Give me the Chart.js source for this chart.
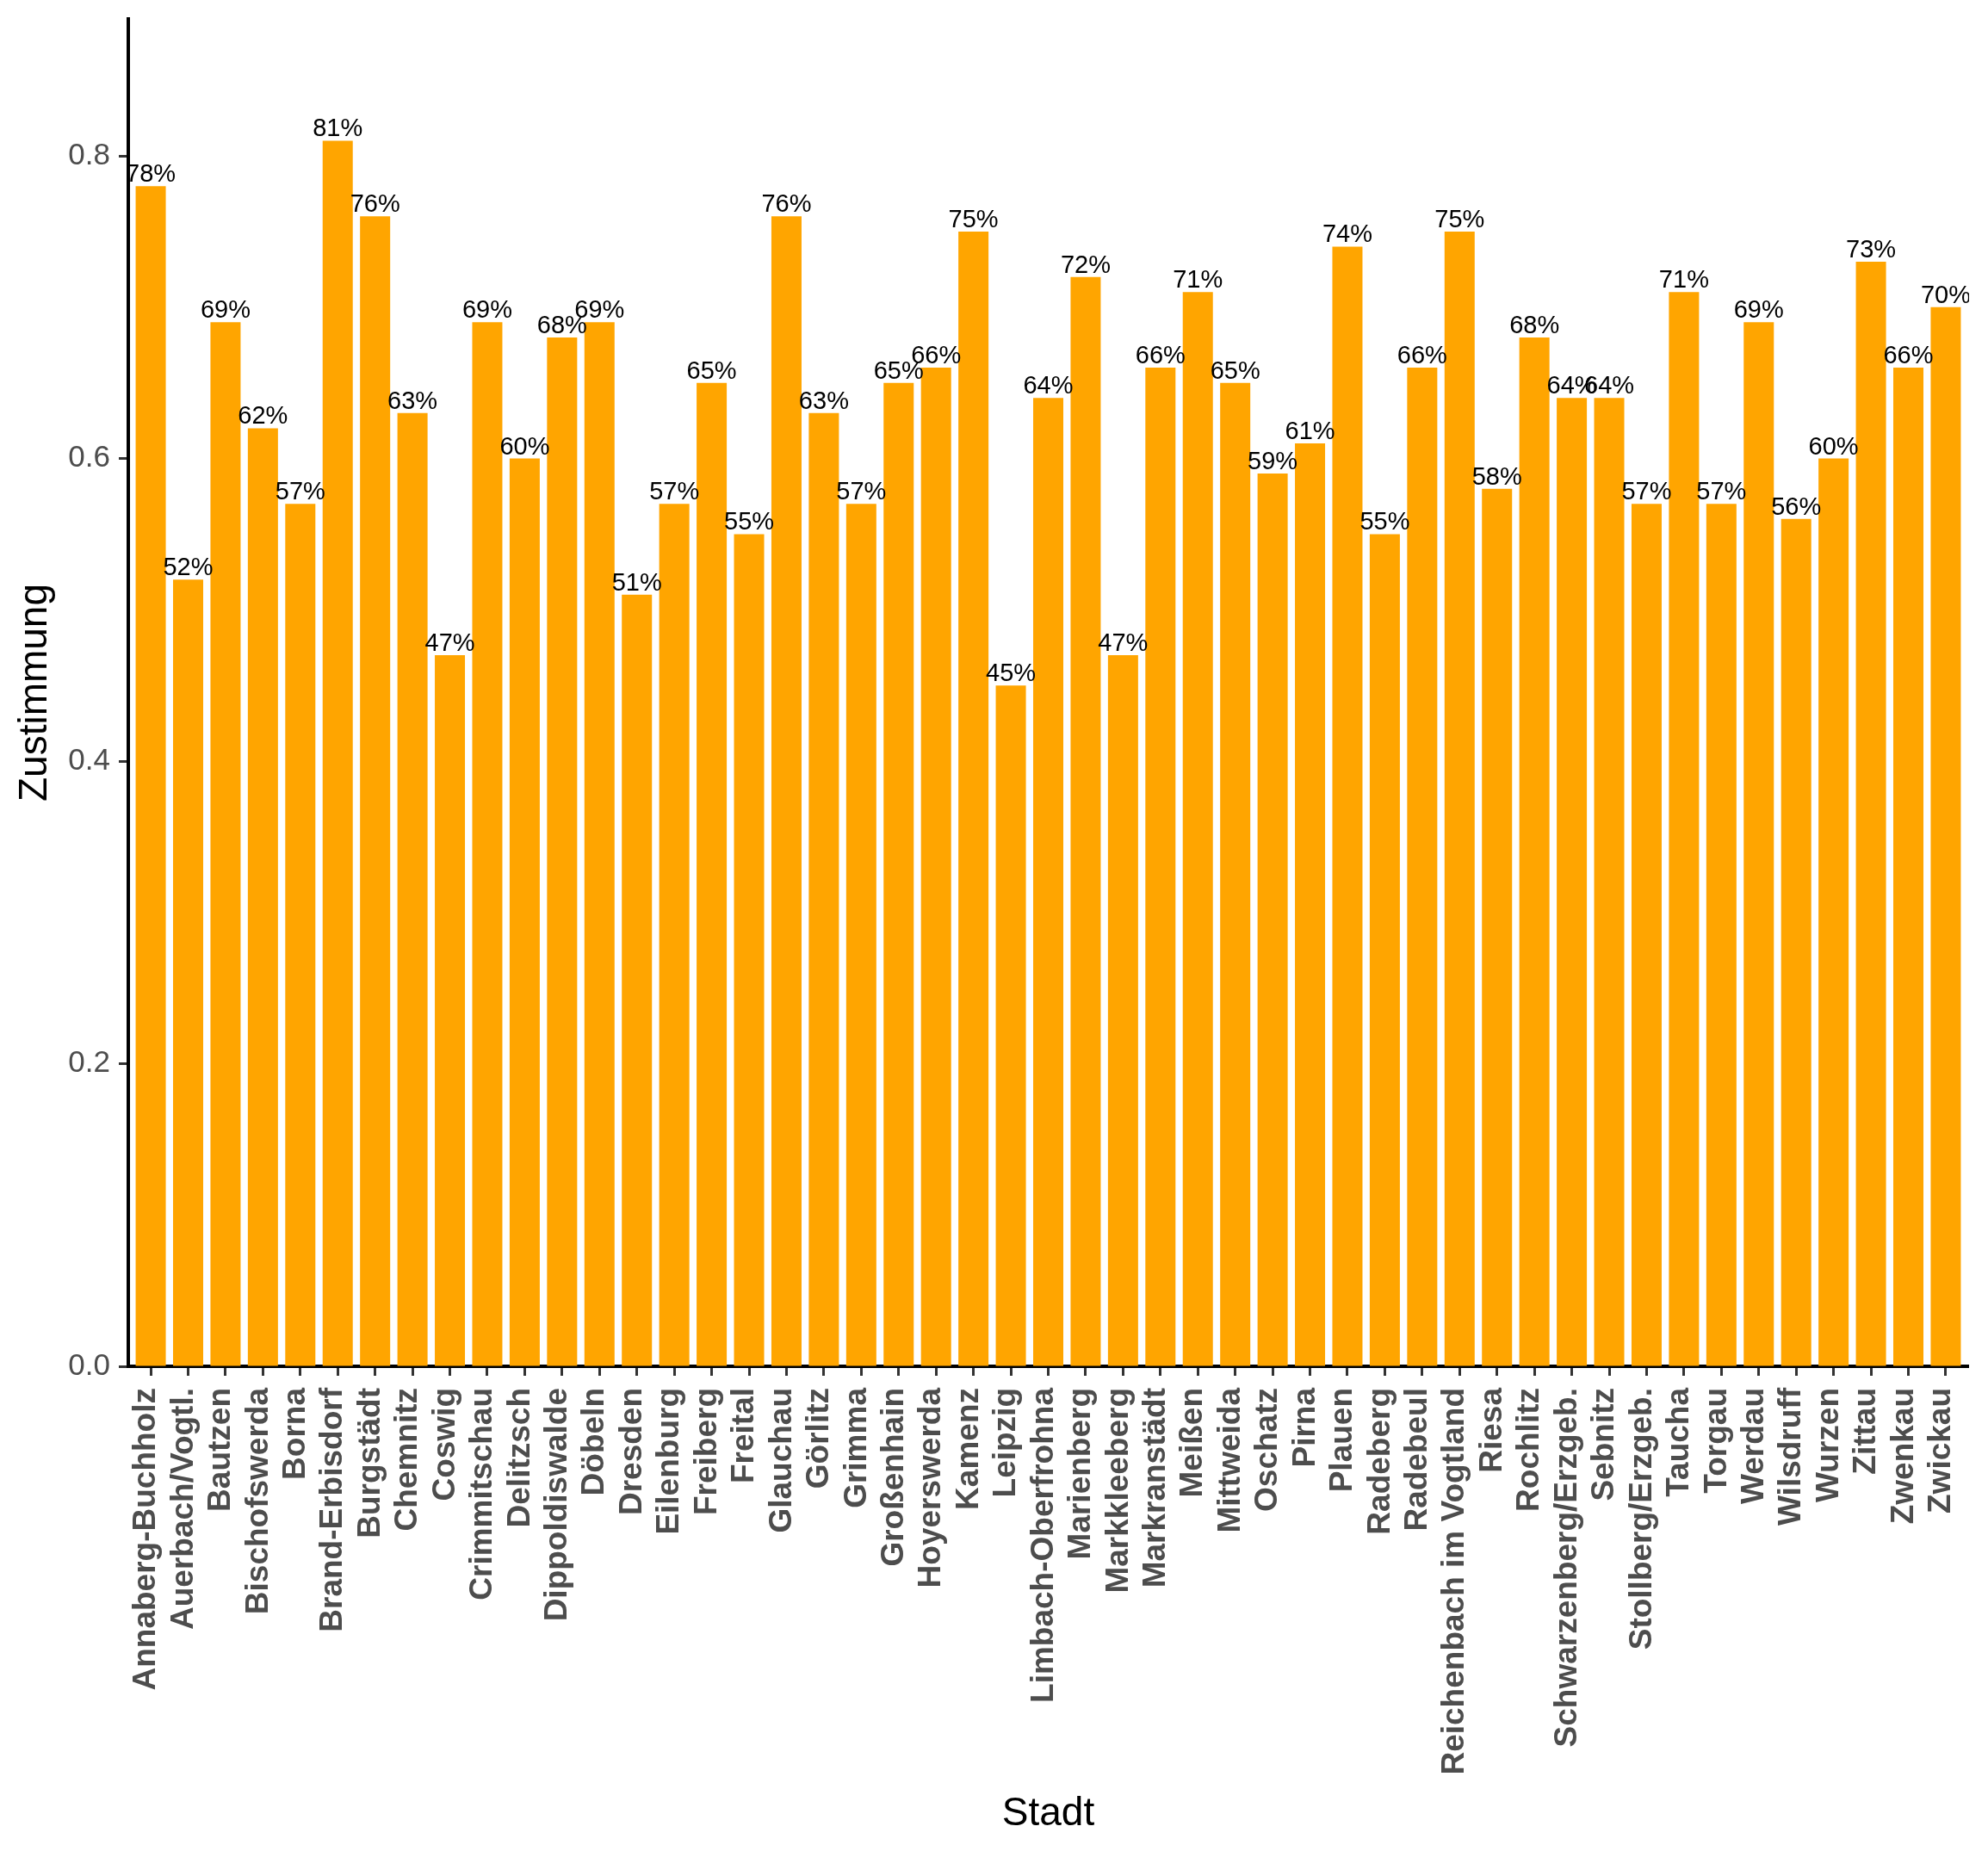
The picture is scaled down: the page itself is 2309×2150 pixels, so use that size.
<!DOCTYPE html>
<html>
<head>
<meta charset="utf-8">
<title>Zustimmung nach Stadt</title>
<script src="https://cdn.jsdelivr.net/npm/chart.js@4.4.1/dist/chart.umd.min.js"></script>
<style>
  html, body { margin: 0; padding: 0; background: #fff; }
  #wrap { width: 2309px; height: 2150px; position: relative; }
</style>
</head>
<body>
<div id="wrap"><canvas id="zustimmungChart"></canvas></div>
<script>
// Daten
const staedte = [
  'Annaberg-Buchholz', 'Auerbach/Vogtl.', 'Bautzen', 'Bischofswerda', 'Borna',
  'Brand-Erbisdorf', 'Burgstädt', 'Chemnitz', 'Coswig', 'Crimmitschau',
  'Delitzsch', 'Dippoldiswalde', 'Döbeln', 'Dresden', 'Eilenburg',
  'Freiberg', 'Freital', 'Glauchau', 'Görlitz', 'Grimma',
  'Großenhain', 'Hoyerswerda', 'Kamenz', 'Leipzig', 'Limbach-Oberfrohna',
  'Marienberg', 'Markkleeberg', 'Markranstädt', 'Meißen', 'Mittweida',
  'Oschatz', 'Pirna', 'Plauen', 'Radeberg', 'Radebeul',
  'Reichenbach im Vogtland', 'Riesa', 'Rochlitz', 'Schwarzenberg/Erzgeb.', 'Sebnitz',
  'Stollberg/Erzgeb.', 'Taucha', 'Torgau', 'Werdau', 'Wilsdruff',
  'Wurzen', 'Zittau', 'Zwenkau', 'Zwickau'
];
const zustimmung = [
  0.78, 0.52, 0.69, 0.62, 0.57,
  0.81, 0.76, 0.63, 0.47, 0.69,
  0.60, 0.68, 0.69, 0.51, 0.57,
  0.65, 0.55, 0.76, 0.63, 0.57,
  0.65, 0.66, 0.75, 0.45, 0.64,
  0.72, 0.47, 0.66, 0.71, 0.65,
  0.59, 0.61, 0.74, 0.55, 0.66,
  0.75, 0.58, 0.68, 0.64, 0.64,
  0.57, 0.71, 0.57, 0.69, 0.56,
  0.60, 0.73, 0.66, 0.70
];
const yTicks = [0, 0.2, 0.4, 0.6, 0.8];

const FONT = '"Liberation Sans", Arial, sans-serif';

// Prozentwerte über den Balken
const percentLabels = {
  id: 'percentLabels',
  afterDatasetsDraw(chart) {
    const { ctx, chartArea } = chart;
    const meta = chart.getDatasetMeta(0);
    ctx.save();
    ctx.beginPath();
    ctx.rect(0, 0, chartArea.right + 1, chart.height);
    ctx.clip();
    ctx.font = '29px ' + FONT;
    ctx.fillStyle = '#000000';
    ctx.textAlign = 'center';
    ctx.textBaseline = 'alphabetic';
    meta.data.forEach(function (bar, i) {
      ctx.fillText(Math.round(zustimmung[i] * 100) + '%', bar.x, bar.y - 5);
    });
    ctx.restore();
  }
};

const ctx = document.getElementById('zustimmungChart');

new Chart(ctx, {
  type: 'bar',
  data: {
    labels: staedte,
    datasets: [{
      label: 'Zustimmung',
      data: zustimmung,
      backgroundColor: '#FFA500',
      borderWidth: 0,
      categoryPercentage: 1,
      barPercentage: 0.806
    }]
  },
  options: {
    responsive: true,
    maintainAspectRatio: false,
    animation: false,
    layout: {
      padding: { top: 22, right: 23, left: 0, bottom: 0 }
    },
    plugins: {
      legend: { display: false },
      tooltip: { enabled: false }
    },
    scales: {
      x: {
        z: 1,
        offset: true,
        // ggplot-artige Erweiterung: 0.6 Kategorien an jedem Rand
        afterBuildTicks: function (scale) {
          scale._startValue = scale.min - 0.6;
          scale._valueRange = (scale.max - scale.min + 1) + 0.2;
        },
        afterFit: function (scale) {
          scale.height = 563;
          scale.paddingLeft = 0;
          scale.paddingRight = 0;
        },
        grid: {
          display: true,
          drawOnChartArea: false,
          drawTicks: true,
          offset: false,
          tickLength: 11,
          tickColor: '#333333',
          tickWidth: 3
        },
        border: { display: true, color: '#000000', width: 4 },
        ticks: {
          autoSkip: false,
          minRotation: 90,
          maxRotation: 90,
          padding: 14,
          labelOffset: -5,
          color: '#4D4D4D',
          font: { family: FONT, size: 37, weight: 'bold' }
        },
        title: {
          display: true,
          text: 'Stadt',
          color: '#000000',
          padding: { top: 0, bottom: 15 },
          font: { family: FONT, size: 46, lineHeight: 1.2 }
        }
      },
      y: {
        min: 0,
        max: 0.8905,
        afterBuildTicks: function (scale) {
          scale.ticks = yTicks.map(function (v) { return { value: v }; });
        },
        afterFit: function (scale) {
          scale.width = 149;
          scale.paddingTop = 0;
          scale.paddingBottom = 0;
        },
        grid: {
          display: true,
          drawOnChartArea: false,
          drawTicks: true,
          tickLength: 11,
          tickColor: '#333333',
          tickWidth: 3
        },
        border: { display: true, color: '#000000', width: 4 },
        ticks: {
          includeBounds: false,
          padding: 10,
          color: '#4D4D4D',
          font: { family: FONT, size: 35 },
          callback: function (value) { return Number(value).toFixed(1); }
        },
        title: {
          display: true,
          text: 'Zustimmung',
          color: '#000000',
          padding: { top: 14, bottom: 0 },
          font: { family: FONT, size: 46, lineHeight: 1.2 }
        }
      }
    }
  },
  plugins: [percentLabels]
});
</script>
</body>
</html>
